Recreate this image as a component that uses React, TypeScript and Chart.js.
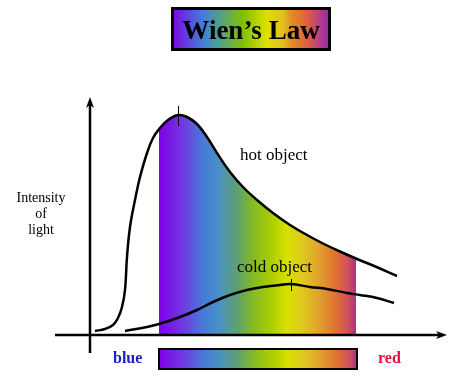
import React, { useEffect, useRef } from "react";
import { Chart, registerables } from "chart.js";

Chart.register(...registerables);

// ---- data (x: wavelength units, y: intensity units) ----
const hotX = [5, 15, 23, 28, 32, 35, 37, 40, 45, 50, 57, 63, 70, 78, 88, 97, 107, 117, 127, 140, 153, 167, 183, 200, 217, 233, 250, 267, 283, 307];
const hotY = [4, 6, 10, 17, 28, 45, 78, 108, 135, 158, 182, 197, 207, 215, 220, 218, 211, 198, 182, 163, 148, 135, 122, 110, 100, 91.5, 83.5, 76, 69.5, 59];
const coldX = [35, 57, 69, 90, 107, 123, 140, 157, 173, 190, 201, 220, 237, 257, 270, 287, 304];
const coldY = [4, 8, 11, 18, 25, 33, 40, 45, 48, 50, 51, 48, 46, 42, 40, 37, 32];
const hotPeakX = 88;
const coldPeakX = 201;
const bandStart = 69;
const bandEnd = 266;

const spectrumStops = [0, 0.12, 0.22, 0.3, 0.4, 0.47, 0.58, 0.65, 0.73, 0.83, 0.9, 0.96, 1];
const spectrumColors = ["#8000e8", "#7038e0", "#4878d8", "#4890c8", "#60a070", "#80b828", "#b0d000", "#d8e000", "#e0c820", "#e09830", "#e07030", "#d05060", "#b03080"];
const titleStops = [0, 0.2, 0.3, 0.45, 0.6, 0.7, 0.75, 0.85, 1];
const titleColors = ["#8000e0", "#4080d8", "#50a090", "#80c000", "#e0e000", "#e0c020", "#e09020", "#e06040", "#9020c0"];

const titleText = "Wien\u2019s Law";
const yAxisLabel = ["Intensity", "of", "light"];
const hotLabel = "hot object";
const coldLabel = "cold object";
const blueLabel = "blue";
const redLabel = "red";

const X_MIN = 0, X_MAX = 360, Y_MIN = 0, Y_MAX = 240;

export default function App() {
  const ref = useRef<HTMLCanvasElement>(null);

  useEffect(() => {
    const canvas = ref.current;
    if (!canvas) return;

    const addStops = (g: CanvasGradient, o0: number, o1: number, stops: number[], colors: string[]) => {
      stops.forEach((s, i) => g.addColorStop(Math.min(1, Math.max(0, o0 + s * (o1 - o0))), colors[i]));
    };

    const overlay = {
      id: "overlay",
      afterDatasetsDraw(chart: any) {
        const ctx: CanvasRenderingContext2D = chart.ctx;
        const xs = chart.scales.x;
        const ys = chart.scales.y;
        const x0 = xs.getPixelForValue(0);
        const y0 = ys.getPixelForValue(0);
        ctx.save();
        ctx.strokeStyle = "#000";
        ctx.fillStyle = "#000";
        ctx.lineWidth = 2.5;
        // vertical axis
        ctx.beginPath();
        ctx.moveTo(x0, y0 + 18);
        ctx.lineTo(x0, ys.getPixelForValue(Y_MAX) + 8);
        ctx.stroke();
        ctx.beginPath();
        const ty = ys.getPixelForValue(Y_MAX) + 2;
        ctx.moveTo(x0, ty);
        ctx.lineTo(x0 - 4, ty + 11);
        ctx.lineTo(x0, ty + 8);
        ctx.lineTo(x0 + 4, ty + 11);
        ctx.closePath();
        ctx.fill();
        // horizontal axis
        ctx.beginPath();
        ctx.moveTo(x0 - 35, y0);
        ctx.lineTo(xs.getPixelForValue(X_MAX) - 8, y0);
        ctx.stroke();
        const tx = xs.getPixelForValue(X_MAX) - 3;
        ctx.beginPath();
        ctx.moveTo(tx, y0);
        ctx.lineTo(tx - 11, y0 - 4);
        ctx.lineTo(tx - 8, y0);
        ctx.lineTo(tx - 11, y0 + 4);
        ctx.closePath();
        ctx.fill();

        // peak ticks
        ctx.lineWidth = 1;
        const hp = xs.getPixelForValue(hotPeakX);
        const hpy = ys.getPixelForValue(Math.max(...hotY));
        ctx.beginPath();
        ctx.moveTo(hp + 0.5, hpy - 9);
        ctx.lineTo(hp + 0.5, hpy + 11);
        ctx.stroke();
        const cp = xs.getPixelForValue(coldPeakX);
        const cpy = ys.getPixelForValue(Math.max(...coldY));
        ctx.beginPath();
        ctx.moveTo(cp + 0.5, cpy - 5);
        ctx.lineTo(cp + 0.5, cpy + 7);
        ctx.stroke();

        // labels
        ctx.fillStyle = "#000";
        ctx.textAlign = "left";
        ctx.textBaseline = "alphabetic";
        ctx.font = '17px "Liberation Serif", serif';
        ctx.fillText(hotLabel, 240, 160);
        ctx.fillText(coldLabel, 237, 272);

        ctx.font = '14px "Liberation Serif", serif';
        ctx.textAlign = "center";
        yAxisLabel.forEach((t, i) => ctx.fillText(t, 41, 202 + i * 16));

        // spectrum bar
        const b0 = xs.getPixelForValue(bandStart);
        const b1 = xs.getPixelForValue(bandEnd + 1);
        const bg = ctx.createLinearGradient(b0, 0, b1, 0);
        addStops(bg, 0, 1, spectrumStops, spectrumColors);
        ctx.fillStyle = bg;
        ctx.fillRect(b0, 349, b1 - b0, 20);
        ctx.lineWidth = 2;
        ctx.strokeStyle = "#000";
        ctx.strokeRect(b0, 349, b1 - b0, 20);

        ctx.font = 'bold 16px "Liberation Serif", serif';
        ctx.textAlign = "left";
        ctx.fillStyle = "#2020c0";
        ctx.fillText(blueLabel, 113, 363);
        ctx.fillStyle = "#e8103c";
        ctx.fillText(redLabel, 378, 363);

        // title box
        const tg = ctx.createLinearGradient(171, 0, 331, 0);
        addStops(tg, 0, 1, titleStops, titleColors);
        ctx.fillStyle = tg;
        ctx.fillRect(171, 7, 160, 44);
        ctx.lineWidth = 3;
        ctx.strokeStyle = "#000";
        ctx.strokeRect(172.5, 8.5, 157, 41);
        ctx.fillStyle = "#000";
        ctx.textAlign = "center";
        ctx.font = 'bold 27px "Liberation Serif", serif';
        ctx.fillText(titleText, 251, 39);
        ctx.restore();
      },
    };

    const fillColor = (c: any) => {
      const chart = c.chart;
      const ca = chart.chartArea;
      if (!ca) return "rgba(255,255,255,0)";
      const xs = chart.scales.x;
      const w = ca.right - ca.left;
      const o0 = (xs.getPixelForValue(bandStart) - ca.left) / w;
      const o1 = (xs.getPixelForValue(bandEnd) - ca.left) / w;
      const g = chart.ctx.createLinearGradient(ca.left, 0, ca.right, 0);
      const clear = "rgba(255,255,255,0)";
      g.addColorStop(0, clear);
      g.addColorStop(o0, clear);
      addStops(g, o0, o1, spectrumStops, spectrumColors);
      g.addColorStop(o1, clear);
      g.addColorStop(1, clear);
      return g;
    };

    const chart = new Chart(canvas, {
      type: "line",
      data: {
        datasets: [
          {
            label: "hot object",
            data: hotX.map((x, i) => ({ x, y: hotY[i] })),
            borderColor: "#000",
            borderWidth: 2.5,
            pointRadius: 0,
            tension: 0.4,
            fill: "origin",
            backgroundColor: fillColor as any,
            order: 2,
          },
          {
            label: "cold object",
            data: coldX.map((x, i) => ({ x, y: coldY[i] })),
            borderColor: "#000",
            borderWidth: 2.5,
            pointRadius: 0,
            tension: 0.4,
            fill: false,
            order: 1,
          },
        ],
      },
      options: {
        responsive: false,
        animation: false,
        layout: { padding: { left: 90, right: 22, top: 95, bottom: 53 } },
        scales: {
          x: { type: "linear", min: X_MIN, max: X_MAX, display: false },
          y: { type: "linear", min: Y_MIN, max: Y_MAX, display: false },
        },
        plugins: {
          legend: { display: false },
          tooltip: { enabled: false },
          title: { display: false },
        },
      },
      plugins: [overlay],
    } as any);

    return () => chart.destroy();
  }, []);

  return (
    <div style={{ position: "fixed", left: 0, top: 0, width: 472, height: 388, background: "#fff" }}>
      <canvas ref={ref} width={472} height={388} style={{ display: "block" }} />
    </div>
  );
}
